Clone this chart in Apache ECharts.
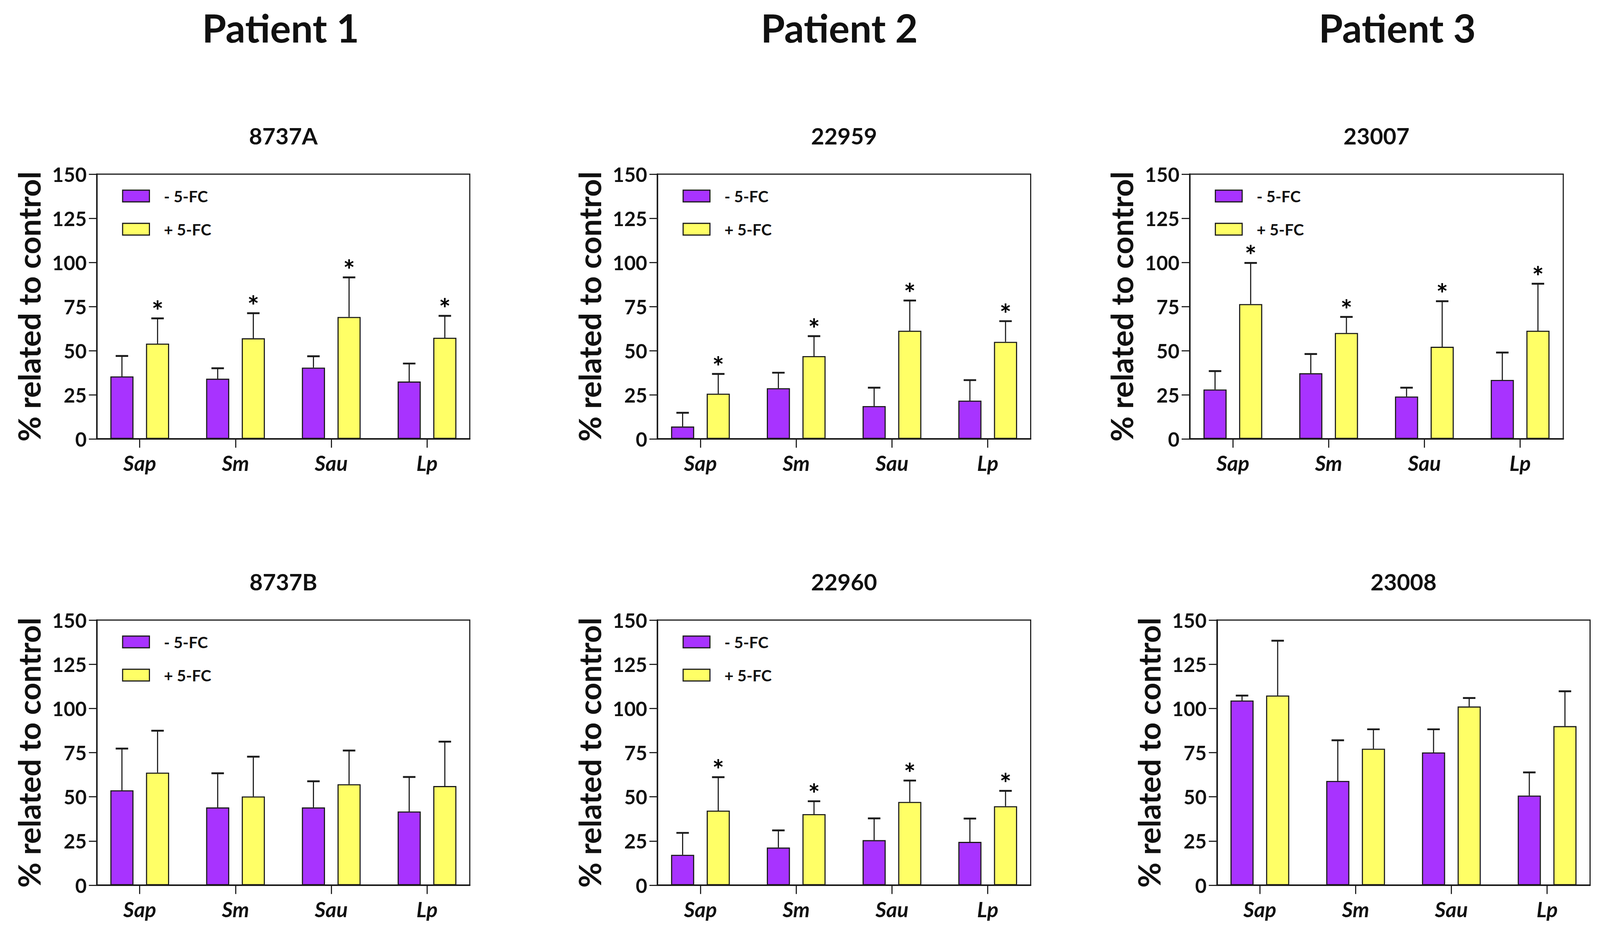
<!DOCTYPE html>
<html><head><meta charset="utf-8">
<script src="https://cdn.jsdelivr.net/npm/echarts@6/dist/echarts.min.js"></script>
<style>html,body{margin:0;padding:0;background:#fff;overflow:hidden}#c{width:100vw;height:100vh}</style>
</head><body><div id="c"></div>
<script>
// ---------- data ----------
const categories = ['Sap', 'Sm', 'Sau', 'Lp'];
const seriesNames = ['- 5-FC', '+ 5-FC'];
const yTicks = [0, 25, 50, 75, 100, 125, 150];
const yAxisTitle = '% related to control';
const patientTitles = ['Patient 1', 'Patient 2', 'Patient 3'];
const panelTitles = ['8737A', '22959', '23007', '8737B', '22960', '23008'];

// means (bar heights) and upper ends of the error bars
const minus_8737A = [35.4, 34.1, 40.4, 32.5];
const minusUp_8737A = [47.0, 40.0, 46.8, 42.7];
const plus_8737A = [54.0, 57.0, 69.1, 57.3];
const plusUp_8737A = [68.3, 71.2, 91.5, 69.7];
const sig_8737A = [1, 1, 1, 1];

const minus_22959 = [7.0, 28.7, 18.6, 21.7];
const minusUp_22959 = [14.8, 37.5, 29.0, 33.3];
const plus_22959 = [25.6, 46.9, 61.3, 55.0];
const plusUp_22959 = [36.8, 58.2, 78.4, 66.7];
const sig_22959 = [1, 1, 1, 1];

const minus_23007 = [28.0, 37.2, 24.0, 33.4];
const minusUp_23007 = [38.4, 48.1, 29.0, 48.9];
const plus_23007 = [76.4, 60.0, 52.2, 61.3];
const plusUp_23007 = [99.7, 69.1, 78.0, 87.9];
const sig_23007 = [1, 1, 1, 1];

const minus_8737B = [53.7, 44.0, 44.0, 41.7];
const minusUp_8737B = [77.3, 63.3, 58.8, 61.2];
const plus_8737B = [63.7, 50.2, 57.1, 56.1];
const plusUp_8737B = [87.4, 72.7, 76.2, 81.2];
const sig_8737B = [0, 0, 0, 0];

const minus_22960 = [17.2, 21.3, 25.5, 24.5];
const minusUp_22960 = [29.6, 31.0, 37.8, 37.7];
const plus_22960 = [42.2, 40.2, 47.1, 44.7];
const plusUp_22960 = [61.1, 47.5, 59.2, 53.4];
const sig_22960 = [1, 1, 1, 1];

const minus_23008 = [104.5, 59.0, 75.1, 50.7];
const minusUp_23008 = [107.3, 82.0, 88.2, 63.8];
const plus_23008 = [107.3, 77.2, 101.1, 90.0];
const plusUp_23008 = [138.3, 88.2, 105.9, 109.7];
const sig_23008 = [0, 0, 0, 0];

const panelData = [
  [minus_8737A, minusUp_8737A, plus_8737A, plusUp_8737A, sig_8737A],
  [minus_22959, minusUp_22959, plus_22959, plusUp_22959, sig_22959],
  [minus_23007, minusUp_23007, plus_23007, plusUp_23007, sig_23007],
  [minus_8737B, minusUp_8737B, plus_8737B, plusUp_8737B, sig_8737B],
  [minus_22960, minusUp_22960, plus_22960, plusUp_22960, sig_22960],
  [minus_23008, minusUp_23008, plus_23008, plusUp_23008, sig_23008]
];

// ---------- layout & style (designed for a 4356 x 2392 canvas, scaled to the viewport) ----------
const W0 = 4356, H0 = 2392;
const el = document.getElementById('c');
const VW = el.clientWidth || window.innerWidth, VH = el.clientHeight || window.innerHeight;
const SX = VW / W0, SY = VH / H0, S = Math.min(SX, SY);
const px = v => v * SX, py = v => v * SY, fs = v => v * S;

const FONT = 'Lato';
const PURPLE = '#A833FF';
const YELLOW = '#FFFF66';
const EDGE = '#1a1a1a';
const frames = [ // plot frame: left, right, top, bottom
  [264, 1279, 446, 1124],
  [1790, 2806, 446, 1124],
  [3239, 4256, 446, 1124],
  [264, 1279, 1588, 2267],
  [1790, 2806, 1588, 2267],
  [3313, 4329, 1588, 2267]
];
const showLegend = [true, true, true, true, true, false];
const patientPos = [[764, 70], [2285, 70], [3804, 70]];
const BAR_W = 63, BAR_GAP = 34, BAND = 260.7;
const HALF = (BAR_W + BAR_GAP) / 2;

const grid = [], xAxis = [], yAxis = [], series = [], legend = [], graphic = [];

patientTitles.forEach((t, i) => {
  graphic.push({type: 'text', x: px(patientPos[i][0]), y: py(patientPos[i][1]),
    style: {text: t, fontFamily: FONT, fontSize: fs(106), fontWeight: 'bold', fill: '#111',
      align: 'center', verticalAlign: 'middle', textAlign: 'center', textVerticalAlign: 'middle'}});
});

function errRender(side) {
  return function (params, api) {
    const j = api.value(0);
    const base = api.coord([j, api.value(1)]);
    const top = api.coord([j, api.value(2)]);
    const x = base[0] + side * px(HALF);
    const children = [
      {type: 'line', shape: {x1: x, y1: base[1], x2: x, y2: top[1]}, style: {stroke: EDGE, lineWidth: fs(3)}},
      {type: 'line', shape: {x1: x - px(17), y1: top[1], x2: x + px(17), y2: top[1]}, style: {stroke: EDGE, lineWidth: fs(5)}}
    ];
    if (api.value(3)) {
      children.push({type: 'text', x: x, y: top[1] - py(20),
        style: {text: '*', fontFamily: FONT, fontSize: fs(76), fontWeight: 'bold', fill: '#000',
          align: 'center', verticalAlign: 'middle', textAlign: 'center', textVerticalAlign: 'middle'}});
    }
    return {type: 'group', children: children};
  };
}

frames.forEach((f, i) => {
  const [L, R, T, B] = f;
  const g0 = 2 * i, g1 = 2 * i + 1;
  grid.push({left: px(L), top: py(T), width: px(R - L), height: py(B - T), show: true,
    borderColor: EDGE, borderWidth: fs(3), backgroundColor: 'transparent'});
  grid.push({left: px((L + R) / 2 - 2 * BAND), top: py(T), width: px(4 * BAND), height: py(B - T)});

  graphic.push({type: 'text', x: px((L + R) / 2), y: py(T - 99),
    style: {text: panelTitles[i], fontFamily: FONT, fontSize: fs(62), fontWeight: 'bold', fill: '#111',
      align: 'center', verticalAlign: 'middle', textAlign: 'center', textVerticalAlign: 'middle'}});

  xAxis.push({gridIndex: g0, type: 'value', min: 0, max: 1,
    axisLine: {show: true, onZero: false, lineStyle: {color: EDGE, width: fs(4)}},
    axisTick: {show: false}, axisLabel: {show: false}, splitLine: {show: false}});
  yAxis.push({gridIndex: g0, type: 'value', min: yTicks[0], max: yTicks[yTicks.length - 1], interval: yTicks[1] - yTicks[0],
    axisLine: {show: true, onZero: false, lineStyle: {color: EDGE, width: fs(4)}},
    axisTick: {show: true, length: fs(22), lineStyle: {color: EDGE, width: fs(3)}},
    axisLabel: {color: '#111', fontFamily: FONT, fontSize: fs(54), fontWeight: 'bold', margin: fs(28)},
    splitLine: {show: false},
    name: yAxisTitle, nameLocation: 'middle', nameGap: fs(144),
    nameTextStyle: {color: '#111', fontFamily: FONT, fontSize: fs(84), fontWeight: 'bold'}});

  xAxis.push({gridIndex: g1, type: 'category', data: categories,
    axisLine: {show: false},
    axisTick: {show: true, alignWithLabel: true, length: fs(24), lineStyle: {color: EDGE, width: fs(3)}},
    axisLabel: {color: '#111', fontFamily: FONT, fontSize: fs(57), fontWeight: 'bold', fontStyle: 'italic', margin: fs(36)},
    splitLine: {show: false}});
  yAxis.push({gridIndex: g1, type: 'value', min: yTicks[0], max: yTicks[yTicks.length - 1], show: false});

  const [mi, miUp, pl, plUp, sig] = panelData[i];
  const gap = (BAR_GAP / BAR_W * 100).toFixed(1) + '%';
  series.push({type: 'bar', name: seriesNames[0], xAxisIndex: g1, yAxisIndex: g1, data: mi,
    barWidth: px(BAR_W), barGap: gap, z: 2,
    itemStyle: {color: PURPLE, borderColor: EDGE, borderWidth: fs(3)}});
  series.push({type: 'bar', name: seriesNames[1], xAxisIndex: g1, yAxisIndex: g1, data: pl,
    barWidth: px(BAR_W), barGap: gap, z: 2,
    itemStyle: {color: YELLOW, borderColor: EDGE, borderWidth: fs(3)}});
  series.push({type: 'custom', xAxisIndex: g1, yAxisIndex: g1, z: 3, silent: true,
    data: categories.map((c, j) => [j, mi[j], miUp[j], 0]),
    encode: {x: 0, y: [1, 2]}, renderItem: errRender(-1)});
  series.push({type: 'custom', xAxisIndex: g1, yAxisIndex: g1, z: 3, silent: true,
    data: categories.map((c, j) => [j, pl[j], plUp[j], sig[j]]),
    encode: {x: 0, y: [1, 2]}, renderItem: errRender(1)});

  if (showLegend[i]) {
    legend.push({orient: 'vertical', left: px(L + 63), top: py(T + 31), itemWidth: px(73), itemHeight: py(30), itemGap: py(45),
      selectedMode: false, icon: 'rect',
      data: [
        {name: seriesNames[0], itemStyle: {color: PURPLE, borderColor: EDGE, borderWidth: fs(3)}},
        {name: seriesNames[1], itemStyle: {color: YELLOW, borderColor: EDGE, borderWidth: fs(3)}}
      ],
      textStyle: {color: '#111', fontFamily: FONT, fontSize: fs(43), fontWeight: 'bold', lineHeight: py(30), padding: [0, 0, 0, px(34)]}});
  }
});

const chart = echarts.init(el, null, {renderer: 'svg'});
chart.setOption({animation: false, backgroundColor: '#fff', grid, xAxis, yAxis, series, legend, graphic});
</script>
</body></html>
